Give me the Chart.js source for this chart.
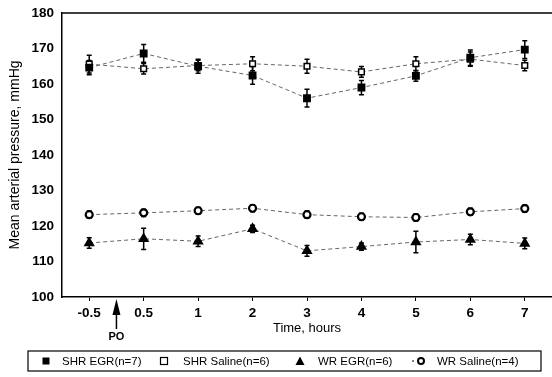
<!DOCTYPE html>
<html><head><meta charset="utf-8">
<script src="https://cdn.jsdelivr.net/npm/chart.js@4/dist/chart.umd.min.js"></script>
<style>html,body{margin:0;padding:0;background:#fff;}#w{width:552px;height:377px;}</style>
</head><body><div id="w"><canvas id="c" width="552" height="377"></canvas></div>
<script>
const categories = ['-0.5','0.5','1','2','3','4','5','6','7'];
const shrEgr = [164.6, 168.6, 165, 162.4, 156, 159, 162.3, 167.4, 169.7];
const shrEgrErr = [2, 2.5, 2, 2.5, 2.5, 2, 1.5, 2.2, 2.5];
const shrSaline = [165.6, 164.3, 165.2, 165.7, 165, 163.4, 165.7, 167, 165.2];
const shrSalineErr = [2.5, 1.5, 1.5, 2, 2, 1.5, 2, 2, 1.5];
const wrEgr = [115.2, 116.4, 115.7, 119.2, 113, 114.2, 115.5, 116.2, 115.1];
const wrEgrErr = [1.5, 3, 1.5, 1, 1.5, 1, 3, 1.5, 1.5];
const wrSaline = [123.2, 123.7, 124.3, 125, 123.2, 122.6, 122.4, 124, 124.9];
const wrSalineErr = [1, 1, 1, 1, 1, 1, 1, 1, 1];
const yTicks = [100,110,120,130,140,150,160,170,180];
const legendLabels = ['SHR EGR(n=7)','SHR Saline(n=6)','WR EGR(n=6)','WR Saline(n=4)'];

const FONT = "'Liberation Sans', Arial, sans-serif";
const errs = [shrEgrErr, shrSalineErr, wrEgrErr, wrSalineErr];

function ds(label, data, style, fill, r, bw) {
  return {label, data, pointStyle: style, pointRadius: r, pointHoverRadius: r,
    pointBackgroundColor: fill, pointBorderColor: '#000', pointBorderWidth: bw,
    borderColor: '#666', borderWidth: 1, borderDash: [4,3], fill: false, tension: 0};
}

const extras = {
  id: 'extras',
  beforeDatasetsDraw(chart) {
    const ctx = chart.ctx, y = chart.scales.y;
    ctx.save();
    ctx.strokeStyle = '#000'; ctx.lineWidth = 1.5;
    chart.data.datasets.forEach((d, i) => {
      const meta = chart.getDatasetMeta(i);
      meta.data.forEach((p, j) => {
        const e = errs[i][j];
        const yt = y.getPixelForValue(d.data[j] + e), yb = y.getPixelForValue(d.data[j] - e);
        ctx.beginPath(); ctx.moveTo(p.x, yt); ctx.lineTo(p.x, yb);
        ctx.moveTo(p.x - 2.5, yt); ctx.lineTo(p.x + 2.5, yt);
        ctx.moveTo(p.x - 2.5, yb); ctx.lineTo(p.x + 2.5, yb);
        ctx.stroke();
      });
    });
    ctx.restore();
  },
  afterDraw(chart) {
    const ctx = chart.ctx, a = chart.chartArea, x = chart.scales.x;
    ctx.save();
    ctx.strokeStyle = '#000'; ctx.lineWidth = 1.5;
    ctx.beginPath(); ctx.moveTo(a.left, a.top); ctx.lineTo(a.right, a.top); ctx.stroke();
    const px = x.getPixelForValue(0.5);
    ctx.fillStyle = '#000';
    ctx.beginPath(); ctx.moveTo(px, a.bottom + 2); ctx.lineTo(px - 4, a.bottom + 18); ctx.lineTo(px + 4, a.bottom + 18); ctx.closePath(); ctx.fill();
    ctx.lineWidth = 1.5;
    ctx.beginPath(); ctx.moveTo(px, a.bottom + 16); ctx.lineTo(px, a.bottom + 32); ctx.stroke();
    ctx.font = 'bold 11px ' + FONT; ctx.textAlign = 'center'; ctx.textBaseline = 'middle';
    ctx.fillText('PO', px, a.bottom + 40);
    const lx = 28, ly = 351, lw = 513, lh = 20;
    ctx.lineWidth = 1.2; ctx.strokeRect(lx, ly, lw, lh);
    const cy = ly + lh / 2;
    const mx = [46, 164, 300, 421], tx = [62, 183, 318, 437];
    ctx.font = '11.5px ' + FONT; ctx.textAlign = 'left';
    legendLabels.forEach((t, i) => { ctx.fillText(t, tx[i], cy + 0.5); });
    ctx.fillRect(mx[0] - 3.5, cy - 3.5, 7, 7);
    ctx.lineWidth = 1.2;
    ctx.strokeRect(mx[1] - 3.5, cy - 3.5, 7, 7);
    ctx.beginPath(); ctx.moveTo(mx[2], cy - 4.5); ctx.lineTo(mx[2] - 4.5, cy + 4); ctx.lineTo(mx[2] + 4.5, cy + 4); ctx.closePath(); ctx.fill();
    ctx.lineWidth = 2;
    ctx.beginPath(); ctx.arc(mx[3], cy, 3, 0, Math.PI * 2); ctx.stroke();
    ctx.lineWidth = 1.2;
    ctx.beginPath(); ctx.moveTo(mx[3] - 9, cy); ctx.lineTo(mx[3] - 7, cy); ctx.stroke();
    ctx.restore();
  }
};

new Chart(document.getElementById('c'), {
  type: 'line',
  data: {
    labels: categories,
    datasets: [
      ds(legendLabels[0], shrEgr, 'rect', '#000', 4.5, 1.5),
      ds(legendLabels[1], shrSaline, 'rect', '#fff', 4, 1.5),
      ds(legendLabels[2], wrEgr, 'triangle', '#000', 5, 1.5),
      ds(legendLabels[3], wrSaline, 'circle', '#fff', 3.5, 2.2)
    ]
  },
  options: {
    responsive: false, animation: false,
    layout: { autoPadding: false, padding: { left: 0, right: 0, top: 13, bottom: 40 } },
    plugins: { legend: { display: false }, tooltip: { enabled: false } },
    scales: {
      x: {
        type: 'category', offset: true,
        grid: { display: true, drawOnChartArea: false, drawTicks: true, tickLength: 4, color: '#000', lineWidth: 1 },
        border: { display: true, color: '#000', width: 1.5 },
        ticks: { color: '#000', font: { family: FONT, size: 13.5, weight: 'bold' }, padding: 4, maxRotation: 0, autoSkip: false },
        title: { display: true, text: 'Time, hours', color: '#000', font: { family: FONT, size: 13 }, padding: { top: 0, bottom: 1 } },
        afterFit(s) { s.height = 40; }
      },
      y: {
        min: 100, max: 180,
        afterBuildTicks(s) { s.ticks = yTicks.map(v => ({ value: v })); },
        grid: { display: false },
        border: { display: true, color: '#000', width: 1.5 },
        ticks: { color: '#000', font: { family: FONT, size: 13.5, weight: 'bold' }, padding: 0 },
        title: { display: true, text: 'Mean arterial pressure, mmHg', color: '#000', font: { family: FONT, size: 14 }, padding: { top: 7, bottom: 0 } },
        afterFit(s) { s.width = 62; }
      }
    }
  },
  plugins: [extras]
});
</script></body></html>
